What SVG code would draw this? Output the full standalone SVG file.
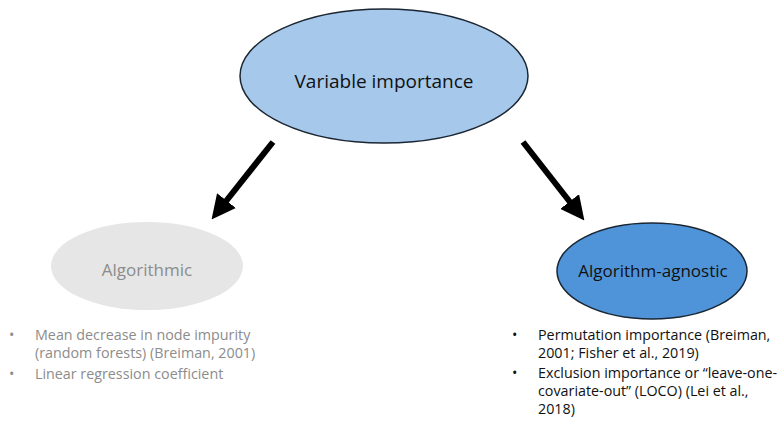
<svg xmlns="http://www.w3.org/2000/svg" width="784" height="421" viewBox="0 0 784 421">
<style>
text{font-family:"Open Sans","Liberation Sans",sans-serif}
.lbl{font-size:17px;text-anchor:middle}
.gray{fill:#8c8c8c}
.dark{fill:#111}
.b{font-size:14.3px}
.conn{stroke:#000;stroke-width:6;fill:none;marker-end:url(#ah)}
</style>
<defs>
<marker id="ah" markerWidth="4" markerHeight="4" refX="2" refY="2" orient="auto" markerUnits="strokeWidth" viewBox="0 0 4 4">
<path d="M0,0 L4,2 L0,4 z" fill="#000"/>
</marker>
</defs>
<rect width="784" height="421" fill="#fff"/>
<g id="connectors">
<line class="conn" x1="273" y1="142" x2="219" y2="210"/>
<line class="conn" x1="523" y1="142" x2="577" y2="211"/>
</g>
<g id="variable-importance">
<ellipse cx="384" cy="76" rx="144" ry="67" fill="#a6c8ea" stroke="#1a2633" stroke-width="1.5"/>
<text class="lbl dark" x="384" y="88" style="font-size:19px">Variable importance</text>
</g>
<g id="algorithmic">
<ellipse cx="147" cy="266" rx="96" ry="44" fill="#e6e6e6"/>
<text class="lbl gray" x="147" y="276">Algorithmic</text>
</g>
<g id="algorithm-agnostic">
<ellipse cx="652" cy="271" rx="95" ry="48" fill="#4f94d9" stroke="#1a2633" stroke-width="1.5"/>
<text class="lbl dark" x="653" y="277">Algorithm-agnostic</text>
</g>
<g id="algorithmic-list" class="b">
<text class="gray" x="9" y="340">•</text>
<text class="gray" x="35" y="340">Mean decrease in node impurity</text>
<text class="gray" x="35" y="358">(random forests) (Breiman, 2001)</text>
<text class="gray" x="9" y="379">•</text>
<text class="gray" x="35" y="379">Linear regression coefficient</text>
</g>
<g id="agnostic-list" class="b">
<text class="dark" x="512" y="340">•</text>
<text class="dark" x="538" y="340">Permutation importance (Breiman,</text>
<text class="dark" x="538" y="358">2001; Fisher et al., 2019)</text>
<text class="dark" x="512" y="378">•</text>
<text class="dark" x="538" y="378">Exclusion importance or “leave-one-</text>
<text class="dark" x="538" y="396">covariate-out” (LOCO) (Lei et al.,</text>
<text class="dark" x="538" y="414">2018)</text>
</g>
</svg>
